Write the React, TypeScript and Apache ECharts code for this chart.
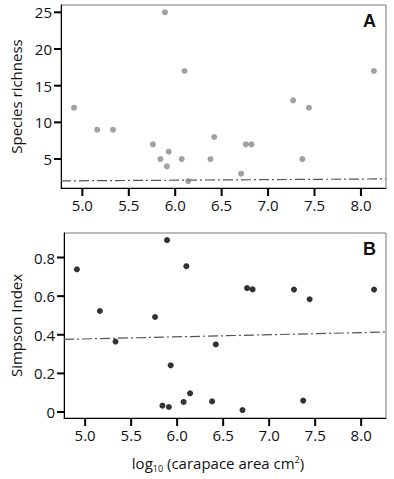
import React, { useEffect, useRef } from "react";
import * as echarts from "echarts";

const logArea = [4.91, 5.16, 5.33, 5.76, 5.84, 5.89, 5.91, 5.93, 6.07, 6.10, 6.14, 6.38, 6.42, 6.71, 6.76, 6.82, 7.27, 7.37, 7.44, 8.14];
const richness = [12, 9, 9, 7, 5, 25, 4, 6, 5, 17, 2, 5, 8, 3, 7, 7, 13, 5, 12, 17];
const simpson = [0.739, 0.523, 0.365, 0.492, 0.033, 0.89, 0.026, 0.242, 0.052, 0.755, 0.097, 0.055, 0.35, 0.01, 0.642, 0.635, 0.634, 0.059, 0.584, 0.634];
const trendRichness = [[4.77, 2.02], [8.27, 2.29]];
const trendSimpson = [[4.77, 0.376], [8.27, 0.414]];
const xTicks = [5.0, 5.5, 6.0, 6.5, 7.0, 7.5, 8.0];
const richnessTicks = [5, 10, 15, 20, 25];
const simpsonTicks = [0, 0.2, 0.4, 0.6, 0.8];

const X_MIN = 4.77;
const X_MAX = 8.27;
const A_MIN = 1.05;
const A_MAX = 26;
const B_MIN = -0.031;
const B_MAX = 0.927;

const FONT = "'Open Sans', sans-serif";
const TXT = "#111";

function xAxisCfg(gridIndex: number, showName: boolean) {
  return {
    type: "value",
    gridIndex,
    min: X_MIN,
    max: X_MAX,
    axisLine: { show: true, onZero: false, lineStyle: { color: "#000", width: 1 } },
    axisTick: { show: false },
    axisLabel: {
      customValues: xTicks,
      formatter: (v: number) => v.toFixed(1),
      color: TXT,
      fontSize: 15,
      fontFamily: FONT,
      margin: 9,
    },
    splitLine: { show: false },
    name: showName ? "{a|log}{sub|10}{a| (carapace area cm}{sup|2}{a|)}" : "",
    nameLocation: "middle",
    nameGap: 34,
    nameTextStyle: {
      padding: [0, 14, 0, 0],
      rich: {
        a: { fontSize: 15, fontFamily: FONT, color: TXT, lineHeight: 22, verticalAlign: "middle" },
        sub: { fontSize: 9, fontFamily: FONT, color: TXT, lineHeight: 22, verticalAlign: "bottom", padding: [0, 0, 1, 0] },
        sup: { fontSize: 9, fontFamily: FONT, color: TXT, lineHeight: 22, verticalAlign: "top", padding: [3, 0, 0, 0] },
      },
    },
  };
}

function yAxisCfg(gridIndex: number, min: number, max: number, ticks: number[], name: string, gap: number, fmt: (v: number) => string) {
  return {
    type: "value",
    gridIndex,
    min,
    max,
    axisLine: { show: true, onZero: false, lineStyle: { color: "#000", width: 1 } },
    axisTick: { show: false },
    axisLabel: {
      customValues: ticks,
      formatter: fmt,
      color: TXT,
      fontSize: 15,
      fontFamily: FONT,
      margin: 9,
    },
    splitLine: { show: false },
    name,
    nameLocation: "middle",
    nameGap: gap,
    nameTextStyle: { fontSize: 15, fontFamily: FONT, color: TXT },
  };
}

const letterFont = "bold 18px 'Liberation Sans', Arial, sans-serif";

export default function App() {
  const ref = useRef<HTMLDivElement>(null);
  useEffect(() => {
    if (!ref.current) return;
    const chart = echarts.init(ref.current, undefined, { renderer: "svg" });
    const ptsA = logArea.map((x, i) => [x, richness[i]]);
    const ptsB = logArea.map((x, i) => [x, simpson[i]]);
    const letters = [
      { type: "text", left: 363, top: 12, style: { text: "A", font: letterFont, fill: "#111" } },
      { type: "text", left: 363, top: 240, style: { text: "B", font: letterFont, fill: "#111" } },
    ];
    chart.setOption({
      animation: false,
      backgroundColor: "#fff",
      grid: [
        { left: 61, right: 8, top: 5, height: 183, show: true, borderColor: "#777", borderWidth: 1 },
        { left: 61, right: 8, top: 233, height: 185, show: true, borderColor: "#777", borderWidth: 1 },
      ],
      xAxis: [xAxisCfg(0, false), xAxisCfg(1, true)],
      yAxis: [
        yAxisCfg(0, A_MIN, A_MAX, richnessTicks, "Species richness", 34, (v: number) => String(v)),
        yAxisCfg(1, B_MIN, B_MAX, simpsonTicks, "Simpson Index", 38, (v: number) => (v === 0 ? "0" : v.toFixed(1))),
      ],
      graphic: letters,
      series: [
        {
          type: "line",
          xAxisIndex: 0,
          yAxisIndex: 0,
          data: trendRichness,
          symbol: "none",
          lineStyle: { color: "#555", width: 1.2, type: [10, 3, 2, 3] },
          z: 1,
        },
        {
          type: "scatter",
          xAxisIndex: 0,
          yAxisIndex: 0,
          data: ptsA,
          symbolSize: 6,
          itemStyle: { color: "#8a8a8a" },
          z: 2,
        },
        {
          type: "line",
          xAxisIndex: 1,
          yAxisIndex: 1,
          data: trendSimpson,
          symbol: "none",
          lineStyle: { color: "#555", width: 1.2, type: [10, 3, 2, 3] },
          z: 1,
        },
        {
          type: "scatter",
          xAxisIndex: 1,
          yAxisIndex: 1,
          data: ptsB,
          symbolSize: 6,
          itemStyle: { color: "#000" },
          z: 2,
        },
      ],
    });

    // tick marks placed through the library's own scales
    const ticks: any[] = [];
    const addX = (gridIndex: number, yMin: number) => {
      xTicks.forEach((v) => {
        const p = chart.convertToPixel({ gridIndex }, [v, yMin]) as number[];
        ticks.push({ type: "rect", z: 100, silent: true, shape: { x: p[0] - 1, y: p[1], width: 2, height: 8 }, style: { fill: "#000" } });
      });
    };
    const addY = (gridIndex: number, vals: number[]) => {
      vals.forEach((v) => {
        const p = chart.convertToPixel({ gridIndex }, [X_MIN, v]) as number[];
        ticks.push({ type: "rect", z: 100, silent: true, shape: { x: p[0] - 7, y: p[1] - 1, width: 7, height: 2 }, style: { fill: "#000" } });
      });
    };
    addX(0, A_MIN);
    addY(0, richnessTicks);
    addX(1, B_MIN);
    addY(1, simpsonTicks);
    chart.setOption({ graphic: [...letters, ...ticks] });

    return () => chart.dispose();
  }, []);
  return <div ref={ref} style={{ position: "absolute", left: 0, top: 0, width: 394, height: 479 }} />;
}
